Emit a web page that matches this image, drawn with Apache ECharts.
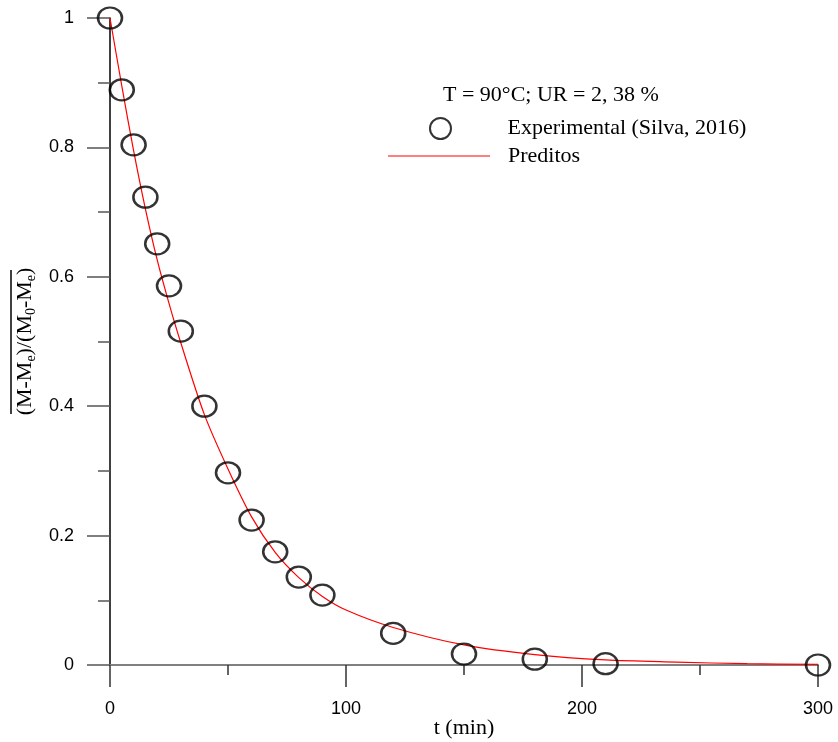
<!DOCTYPE html>
<html>
  <head>
    <meta charset="utf-8" />
    <title>Razão de umidade</title>
    <script src="https://cdn.jsdelivr.net/npm/echarts@6/dist/echarts.min.js"></script>
  </head>
  <body style="margin: 0">
    <div id="chart" style="width: 838px; height: 742px"></div>
    <script>
      // pontos experimentais
      var tExp = [0, 5, 10, 15, 20, 25, 30, 40, 50, 60, 70, 80, 90, 120, 150, 180, 210, 300];
      var mrExp = [1.0, 0.889, 0.804, 0.723, 0.651, 0.586, 0.516, 0.4, 0.297, 0.224, 0.175, 0.136, 0.108, 0.049, 0.017, 0.009, 0.002, 0.0];
      // curva predita
      var tPred = [0, 5, 10, 15, 20, 25, 30, 40, 50, 60, 70, 80, 90, 100, 120, 150, 180, 210, 240, 270, 300];
      var mrPred = [1.0, 0.895, 0.795, 0.705, 0.626, 0.559, 0.498, 0.387, 0.303, 0.229, 0.174, 0.135, 0.106, 0.085, 0.058, 0.031, 0.016, 0.0078, 0.0045, 0.002, 0.001];
      var xTicks = [0, 100, 200, 300];

      var serif = "Liberation Serif";
      var sans = "Liberation Sans";

      var expData = tExp.map(function (t, i) {
        return [t, mrExp[i]];
      });
      var predData = tPred.map(function (t, i) {
        return [t, mrPred[i]];
      });

      var option = {
        animation: false,
        backgroundColor: "#fff",
        title: {
          text: "T = 90°C; UR = 2, 38 %",
          left: 443,
          top: 84,
          padding: 0,
          textStyle: { fontFamily: serif, fontSize: 22, fontWeight: "normal", color: "#000" },
        },
        legend: [
          {
            data: ["Experimental (Silva, 2016)"],
            left: 429,
            top: 117,
            padding: 0,
            itemWidth: 24,
            itemHeight: 21,
            textStyle: { fontFamily: serif, fontSize: 22, color: "#000", padding: [0, 0, 0, 50] },
          },
          {
            data: [{ name: "Preditos", icon: "rect" }],
            left: 388,
            top: 145,
            padding: 0,
            itemWidth: 102,
            itemHeight: 1.2,
            itemStyle: { color: "#ff0000" },
            textStyle: { fontFamily: serif, fontSize: 22, color: "#000", padding: [0, 0, 0, 13] },
          },
        ],
        grid: { left: 110, right: 20, top: 18, bottom: 77, outerBoundsMode: "none" },
        xAxis: {
          type: "value",
          min: xTicks[0],
          max: xTicks[xTicks.length - 1],
          interval: 100,
          name: "t (min)",
          nameLocation: "middle",
          nameGap: 52,
          nameMoveOverlap: false,
          nameTextStyle: { fontFamily: serif, fontSize: 22, color: "#000" },
          axisLine: { lineStyle: { color: "#808080", width: 2 } },
          axisTick: { length: 22, lineStyle: { color: "#333", width: 1.5 } },
          minorTick: { show: true, splitNumber: 2, length: 10, lineStyle: { color: "#333", width: 1.5 } },
          axisLabel: { margin: 35, fontFamily: sans, fontSize: 18, color: "#000" },
          splitLine: { show: false },
        },
        yAxis: {
          type: "value",
          min: 0,
          max: 1,
          interval: 0.2,
          name: "(M-M{s|e})/(M{s|0}-M{s|e})",
          nameLocation: "middle",
          nameGap: 71,
          nameTextStyle: {
            fontFamily: serif,
            fontSize: 22,
            color: "#000",
            rich: {
              s: { fontFamily: serif, fontSize: 14, color: "#000", padding: [12, 0, 0, 0] },
            },
          },
          axisLine: { lineStyle: { color: "#000", width: 1.5 } },
          axisTick: { length: 23, lineStyle: { color: "#555", width: 1.5 } },
          minorTick: { show: true, splitNumber: 2, length: 12, lineStyle: { color: "#555", width: 1.5 } },
          axisLabel: { margin: 36, fontFamily: sans, fontSize: 18, color: "#000" },
          splitLine: { show: false },
        },
        graphic: [
          {
            type: "line",
            shape: { x1: 11, y1: 270, x2: 11, y2: 414 },
            style: { stroke: "#000", lineWidth: 1.5 },
          },
        ],
        series: [
          {
            name: "Preditos",
            type: "line",
            data: predData,
            smooth: 0.3,
            showSymbol: false,
            symbol: "none",
            lineStyle: { color: "#ff0000", width: 1.2 },
            itemStyle: { color: "#ff0000" },
            z: 2,
          },
          {
            name: "Experimental (Silva, 2016)",
            type: "scatter",
            data: expData,
            symbol: "circle",
            symbolSize: [24, 21],
            clip: false,
            itemStyle: { color: "rgba(0,0,0,0)", borderColor: "#000", borderWidth: 2.4 },
            z: 3,
          },
        ],
      };

      var chart = echarts.init(document.getElementById("chart"));
      chart.setOption(option);
    </script>
  </body>
</html>
